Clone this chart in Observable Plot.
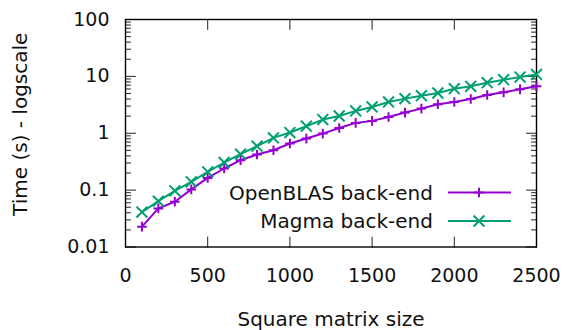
<!DOCTYPE html>
<html>
<head>
<meta charset="utf-8">
<script src="https://cdn.jsdelivr.net/npm/d3@7"></script>
<script src="https://cdn.jsdelivr.net/npm/@observablehq/plot@0.6"></script>
<style>
  html, body { margin: 0; padding: 0; background: #fff; }
  #chart { width: 564px; height: 330px; }
</style>
</head>
<body>
<div id="chart"></div>
<script>
const sizes = [100,200,300,400,500,600,700,800,900,1000,1100,1200,1300,1400,1500,1600,1700,1800,1900,2000,2100,2200,2300,2400,2500];
const openblas = [0.0228,0.0477,0.0624,0.103,0.164,0.240,0.336,0.422,0.503,0.659,0.806,0.987,1.24,1.52,1.65,1.93,2.31,2.71,3.23,3.55,4.00,4.71,5.24,5.92,6.68];
const magma = [0.0411,0.0641,0.0973,0.140,0.210,0.306,0.428,0.592,0.828,1.03,1.33,1.74,2.01,2.47,2.90,3.55,4.06,4.58,5.10,6.08,6.68,7.75,8.75,9.74,10.8];
const seriesNames = ["OpenBLAS back-end", "Magma back-end"];
const xTicks = [0,500,1000,1500,2000,2500];
const yTicks = [0.01,0.1,1,10,100];
const yTickLabels = ["0.01","0.1","1","10","100"];
const xLabel = "Square matrix size";
const yLabel = "Time (s) - logscale";

const colors = ["#9400d3", "#009e73"];
const symbols = ["plus", "times"];
const symbolR = [3.2, 5];

const yMinor = [];
for (let k = 0; k < yTicks.length - 1; k++) {
  for (let m = 2; m <= 9; m++) yMinor.push(+(m * yTicks[k]).toPrecision(3));
}

const tOpen = sizes.map((s, i) => ({size: s, time: openblas[i], series: seriesNames[0]}));
const tMagma = sizes.map((s, i) => ({size: s, time: magma[i], series: seriesNames[1]}));

const tickUp = {draw(c, l) { c.moveTo(0, 0); c.lineTo(0, -l); }};
const tickDown = {draw(c, l) { c.moveTo(0, 0); c.lineTo(0, l); }};
const tickRightward = {draw(c, l) { c.moveTo(0, 0); c.lineTo(l, 0); }};
const tickLeftward = {draw(c, l) { c.moveTo(0, 0); c.lineTo(-l, 0); }};
const tickStyle = {stroke: "#222", strokeWidth: 1, anchor: "start"};
const FONT = "DejaVu Sans";

function legend(index, scales, values, dimensions) {
  const right = dimensions.width - dimensions.marginRight;
  const bottom = dimensions.height - dimensions.marginBottom;
  const g = d3.create("svg:g").attr("font-family", FONT).attr("font-size", 20);
  const symFns = [d3.symbolPlus, d3.symbolTimes];
  seriesNames.forEach((name, i) => {
    const yy = bottom - 54 + i * 28.5;
    g.append("text").attr("x", right - 103).attr("y", yy).attr("dy", "0.36em")
      .attr("text-anchor", "end").attr("fill", "#111").text(name);
    g.append("line").attr("x1", right - 88).attr("x2", right - 25).attr("y1", yy).attr("y2", yy)
      .attr("stroke", colors[i]).attr("stroke-width", 2);
    g.append("path").attr("transform", `translate(${right - 57},${yy})`)
      .attr("d", d3.symbol(symFns[i], Math.PI * symbolR[i] * symbolR[i])())
      .attr("fill", "none").attr("stroke", colors[i]).attr("stroke-width", 2);
  });
  return g.node();
}

const chart = Plot.plot({
  width: 564,
  height: 330,
  marginLeft: 125,
  marginRight: 28,
  marginTop: 19,
  marginBottom: 83.5,
  style: {fontFamily: FONT, background: "#fff", color: "#111"},
  x: {domain: [0, 2500]},
  y: {type: "log", domain: [0.01, 100]},
  marks: [
    // inward ticks on all four sides
    Plot.vector(xTicks, {x: d => d, frameAnchor: "bottom", length: 10, shape: tickUp, ...tickStyle}),
    Plot.vector(xTicks, {x: d => d, frameAnchor: "top", length: 10, shape: tickDown, ...tickStyle}),
    Plot.vector(yTicks, {y: d => d, frameAnchor: "left", length: 10, shape: tickRightward, ...tickStyle}),
    Plot.vector(yTicks, {y: d => d, frameAnchor: "right", length: 10, shape: tickLeftward, ...tickStyle}),
    Plot.vector(yMinor, {y: d => d, frameAnchor: "left", length: 5, shape: tickRightward, ...tickStyle}),
    Plot.vector(yMinor, {y: d => d, frameAnchor: "right", length: 5, shape: tickLeftward, ...tickStyle}),
    Plot.frame({stroke: "#000", strokeWidth: 1.4}),
    Plot.axisX({ticks: xTicks, tickSize: 0, tickPadding: 21, fontSize: 19, label: null, tickFormat: d => String(d)}),
    Plot.axisY({ticks: yTicks, tickSize: 0, tickPadding: 16, fontSize: 19, label: null,
      tickFormat: d => yTickLabels[yTicks.indexOf(d)]}),
    Plot.text([xLabel], {frameAnchor: "bottom", dy: 72.5, fontSize: 20, fill: "#111", textAnchor: "middle", lineAnchor: "middle"}),
    Plot.text([yLabel], {frameAnchor: "left", dx: -105, dy: -9, rotate: -90, fontSize: 20, fill: "#111", textAnchor: "middle", lineAnchor: "middle"}),
    Plot.line(tOpen, {x: "size", y: "time", stroke: colors[0], strokeWidth: 2}),
    Plot.dot(tOpen, {x: "size", y: "time", symbol: symbols[0], r: symbolR[0], stroke: colors[0], strokeWidth: 2}),
    Plot.line(tMagma, {x: "size", y: "time", stroke: colors[1], strokeWidth: 2}),
    Plot.dot(tMagma, {x: "size", y: "time", symbol: symbols[1], r: symbolR[1], stroke: colors[1], strokeWidth: 2}),
    legend
  ]
});
document.getElementById("chart").appendChild(chart);
</script>
</body>
</html>
